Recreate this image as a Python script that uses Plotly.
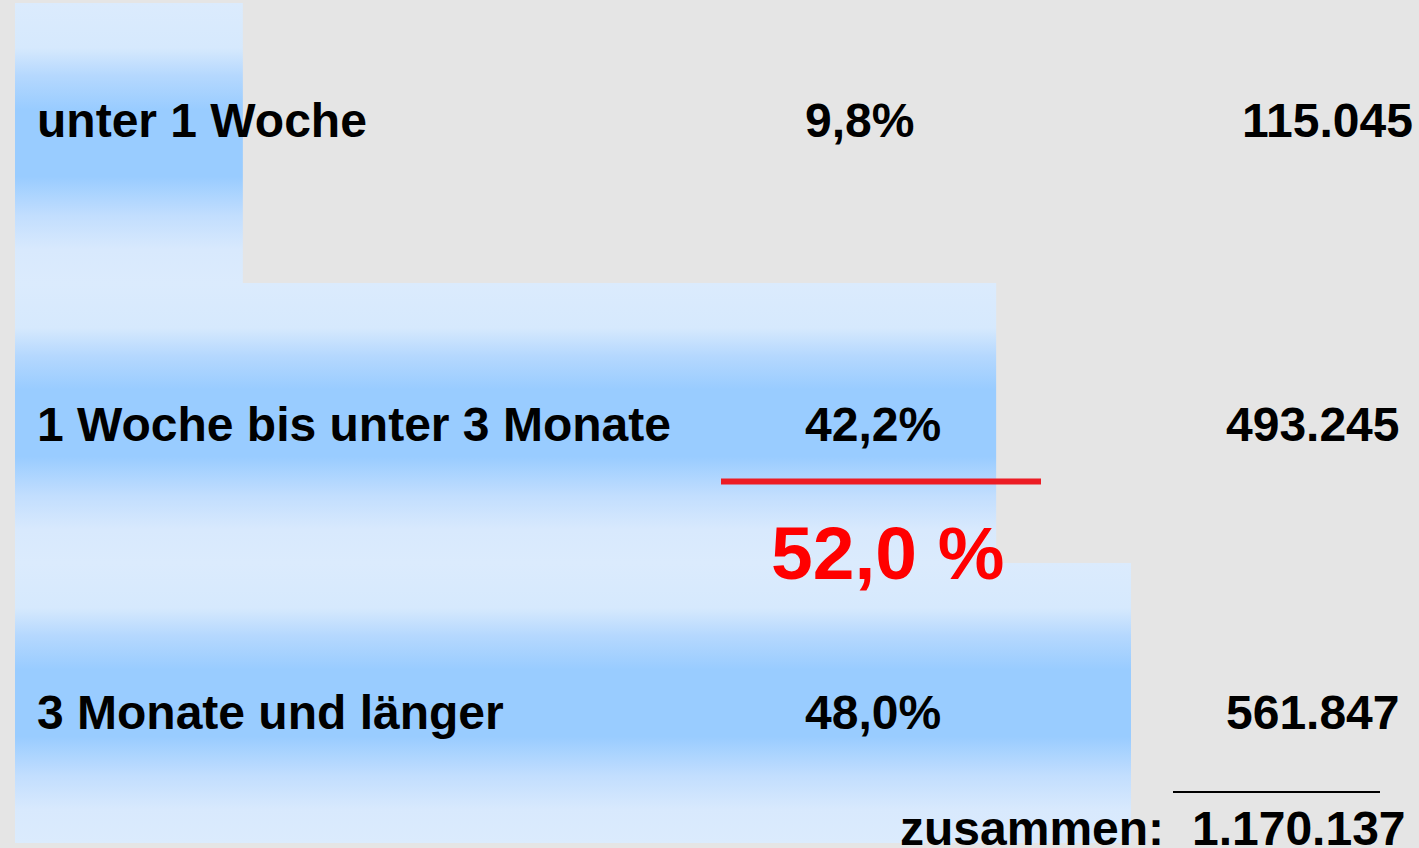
import plotly.graph_objects as go

# ---- data ----
categories = ["unter 1 Woche", "1 Woche bis unter 3 Monate", "3 Monate und länger"]
shares = [9.8, 42.2, 48.0]              # percent
share_labels = ["9,8%", "42,2%", "48,0%"]
counts = ["115.045", "493.245", "561.847"]
total_label = "zusammen:"
total_value = "1.170.137"
highlight_label = "52,0 %"

# ---- layout constants ----
W, H = 1419, 848
BG = "#e5e5e5"
FONT = "Liberation Sans, Arial, sans-serif"
gradient = [
    [0.0, "#dbebfd"], [0.12, "#d8e9fd"], [0.24, "#c2defe"], [0.38, "#99ccff"],
    [0.62, "#99ccff"], [0.74, "#b5d8fe"], [0.84, "#d6e9fd"], [1.0, "#dbebfd"],
]

def px_x(p):
    return p / W

def px_y(p):
    return 1 - p / H

row_y_px = [120.5, 425, 712]
count_right_px = [1415, 1402, 1402]

fig = go.Figure()
for i, v in enumerate(shares):
    fig.add_trace(go.Scatter(
        x=[0, v, v, 0, 0],
        y=[i - 0.5, i - 0.5, i + 0.5, i + 0.5, i - 0.5],
        fill="toself",
        mode="none",
        fillgradient=dict(type="vertical", colorscale=gradient),
        showlegend=False,
        hoverinfo="skip",
    ))

ann = []
for i, cat in enumerate(categories):
    y = px_y(row_y_px[i])
    ann.append(dict(text=cat, x=px_x(35), y=y, xanchor="left", yanchor="middle"))
    ann.append(dict(text=share_labels[i], x=px_x(803), y=y, xanchor="left", yanchor="middle"))
    ann.append(dict(text=counts[i], x=px_x(count_right_px[i]), y=y, xanchor="right", yanchor="middle"))

ann.append(dict(text=total_label, x=px_x(1166), y=px_y(828), xanchor="right", yanchor="middle"))
ann.append(dict(text=total_value, x=px_x(1408), y=px_y(828), xanchor="right", yanchor="middle"))
for a in ann:
    a.update(xref="paper", yref="paper", showarrow=False,
             font=dict(family=FONT, size=48, color="#000000", weight="bold"))
ann.append(dict(text=highlight_label, x=px_x(888), y=px_y(553), xref="paper", yref="paper",
                xanchor="center", yanchor="middle", showarrow=False,
                font=dict(family=FONT, size=75, color="#ff0000", weight="bold")))

shapes = [
    dict(type="line", xref="paper", yref="paper", x0=px_x(721), x1=px_x(1041),
         y0=px_y(481.5), y1=px_y(481.5), line=dict(color="#ec1c24", width=6)),
    dict(type="line", xref="paper", yref="paper", x0=px_x(1173), x1=px_x(1380),
         y0=px_y(792), y1=px_y(792), line=dict(color="#000000", width=2)),
]

unit_px = 280
fig.update_layout(
    width=W, height=H,
    margin=dict(l=0, r=0, t=0, b=0),
    paper_bgcolor=BG, plot_bgcolor=BG,
    xaxis=dict(range=[-15 / 23.25, (W - 15) / 23.25], visible=False, fixedrange=True),
    yaxis=dict(range=[2.5 + 5 / unit_px, -0.5 - 3 / unit_px], visible=False, fixedrange=True),
    annotations=ann,
    shapes=shapes,
    showlegend=False,
)

fig.write_html("out.html", config={"displayModeBar": False})
